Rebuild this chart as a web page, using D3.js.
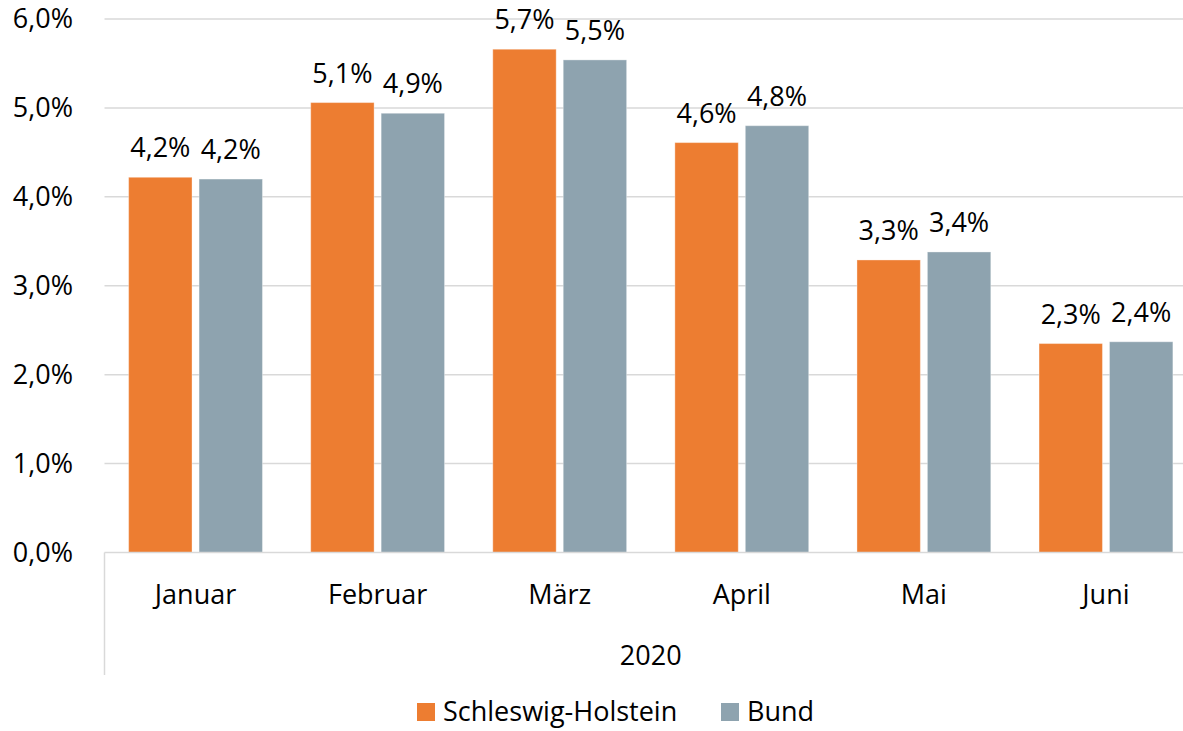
<!DOCTYPE html>
<html>
<head>
<meta charset="utf-8">
<script src="https://cdn.jsdelivr.net/npm/d3@7"></script>
<style>
	body { margin: 0; background: #fff; }
	svg { display: block; font-family: "Open Sans", sans-serif; }
</style>
</head>
<body>
<svg></svg>
<script>
var months = ['Januar', 'Februar', 'März', 'April', 'Mai', 'Juni'];
var seriesNames = ['Schleswig-Holstein', 'Bund'];
var shValues = [4.22, 5.06, 5.66, 4.61, 3.29, 2.35];
var bundValues = [4.20, 4.94, 5.54, 4.80, 3.38, 2.37];
var shLabels = ['4,2%', '5,1%', '5,7%', '4,6%', '3,3%', '2,3%'];
var bundLabels = ['4,2%', '4,9%', '5,5%', '4,8%', '3,4%', '2,4%'];
var yTicks = [0, 1, 2, 3, 4, 5, 6];
var yearLabel = '2020';

var width = 1183;
var height = 731;
var fontSize = 27;
var svg = d3.select('svg')
			.attr('width', width)
			.attr('height', height);

var padding = {
	top: 19,
	left: 104.5,
	bottom: 552.5,
	right: 1197
}

var color = {
	'Schleswig-Holstein': '#ED7D31',
	'Bund': '#8EA3AF'
}

var endData = months.map(function(m, i){
	return {month: m, values: [
		{name: seriesNames[0], v: shValues[i], label: shLabels[i]},
		{name: seriesNames[1], v: bundValues[i], label: bundLabels[i]}
	]};
});

var xScale = d3.scaleBand()
			.domain(months)
			.range([padding.left, padding.right])
			.paddingInner(0.265)
			.paddingOuter(0.1325);

var xInner = d3.scaleBand()
			.domain(seriesNames)
			.range([0, xScale.bandwidth()])
			.paddingInner(0.1);

var yScale = d3.scaleLinear()
			.domain([0, 6])
			.range([padding.bottom, padding.top]);

// gridlines
svg.append('g')
	.selectAll('line')
	.data(yTicks.slice(1))
	.enter()
	.append('line')
	.attr('x1', padding.left)
	.attr('x2', width)
	.attr('y1', d => yScale(d))
	.attr('y2', d => yScale(d))
	.attr('stroke', '#D9D9D9')
	.attr('stroke-width', 1.5);

// y labels
svg.append('g')
	.selectAll('text')
	.data(yTicks)
	.enter()
	.append('text')
	.attr('x', 73)
	.attr('y', d => yScale(d))
	.attr('dy', '0.35em')
	.attr('text-anchor', 'end')
	.attr('font-size', fontSize)
	.attr('fill', '#000')
	.text(d => d3.format('.1f')(d).replace('.', ',') + '%');

// bars
var groups = svg.selectAll('.grp')
	.data(endData)
	.enter()
	.append('g')
	.attr('class', 'grp')
	.attr('transform', d => 'translate(' + xScale(d.month) + ',0)');

groups.selectAll('rect')
	.data(d => d.values)
	.enter()
	.append('rect')
	.attr('x', d => xInner(d.name))
	.attr('y', d => yScale(d.v))
	.attr('width', xInner.bandwidth())
	.attr('height', d => yScale(0) - yScale(d.v))
	.attr('fill', d => color[d.name])
	.attr('stroke', 'rgba(255,255,255,0.35)')
	.attr('stroke-width', 1);

groups.selectAll('.lbl')
	.data(d => d.values)
	.enter()
	.append('text')
	.attr('class', 'lbl')
	.attr('x', d => xInner(d.name) + xInner.bandwidth() / 2)
	.attr('y', d => yScale(d.v) - 20)
	.attr('text-anchor', 'middle')
	.attr('font-size', fontSize)
	.attr('fill', '#000')
	.text(d => d.label);

// x axis line + category separator
svg.append('line')
	.attr('x1', padding.left)
	.attr('x2', width)
	.attr('y1', yScale(0))
	.attr('y2', yScale(0))
	.attr('stroke', '#D9D9D9')
	.attr('stroke-width', 1.5);

svg.append('line')
	.attr('x1', padding.left)
	.attr('x2', padding.left)
	.attr('y1', yScale(0))
	.attr('y2', 675)
	.attr('stroke', '#D9D9D9')
	.attr('stroke-width', 1.5);

svg.append('g')
	.selectAll('text')
	.data(months)
	.enter()
	.append('text')
	.attr('x', d => xScale(d) + xScale.bandwidth() / 2)
	.attr('y', 604)
	.attr('text-anchor', 'middle')
	.attr('font-size', fontSize)
	.attr('fill', '#000')
	.text(d => d);

svg.append('text')
	.attr('x', (padding.left + padding.right) / 2)
	.attr('y', 665)
	.attr('text-anchor', 'middle')
	.attr('font-size', fontSize)
	.attr('fill', '#000')
	.text(yearLabel);

// legend
var legendX = [417, 721];
var legend = svg.selectAll('.legend')
	.data(seriesNames)
	.enter()
	.append('g')
	.attr('class', 'legend')
	.attr('transform', (d, i) => 'translate(' + legendX[i] + ',703)');

legend.append('rect')
	.attr('width', 18)
	.attr('height', 18)
	.attr('fill', d => color[d]);

legend.append('text')
	.attr('x', 26)
	.attr('y', 9)
	.attr('dy', '0.35em')
	.attr('font-size', fontSize)
	.attr('fill', '#000')
	.text(d => d);
</script>
</body>
</html>
